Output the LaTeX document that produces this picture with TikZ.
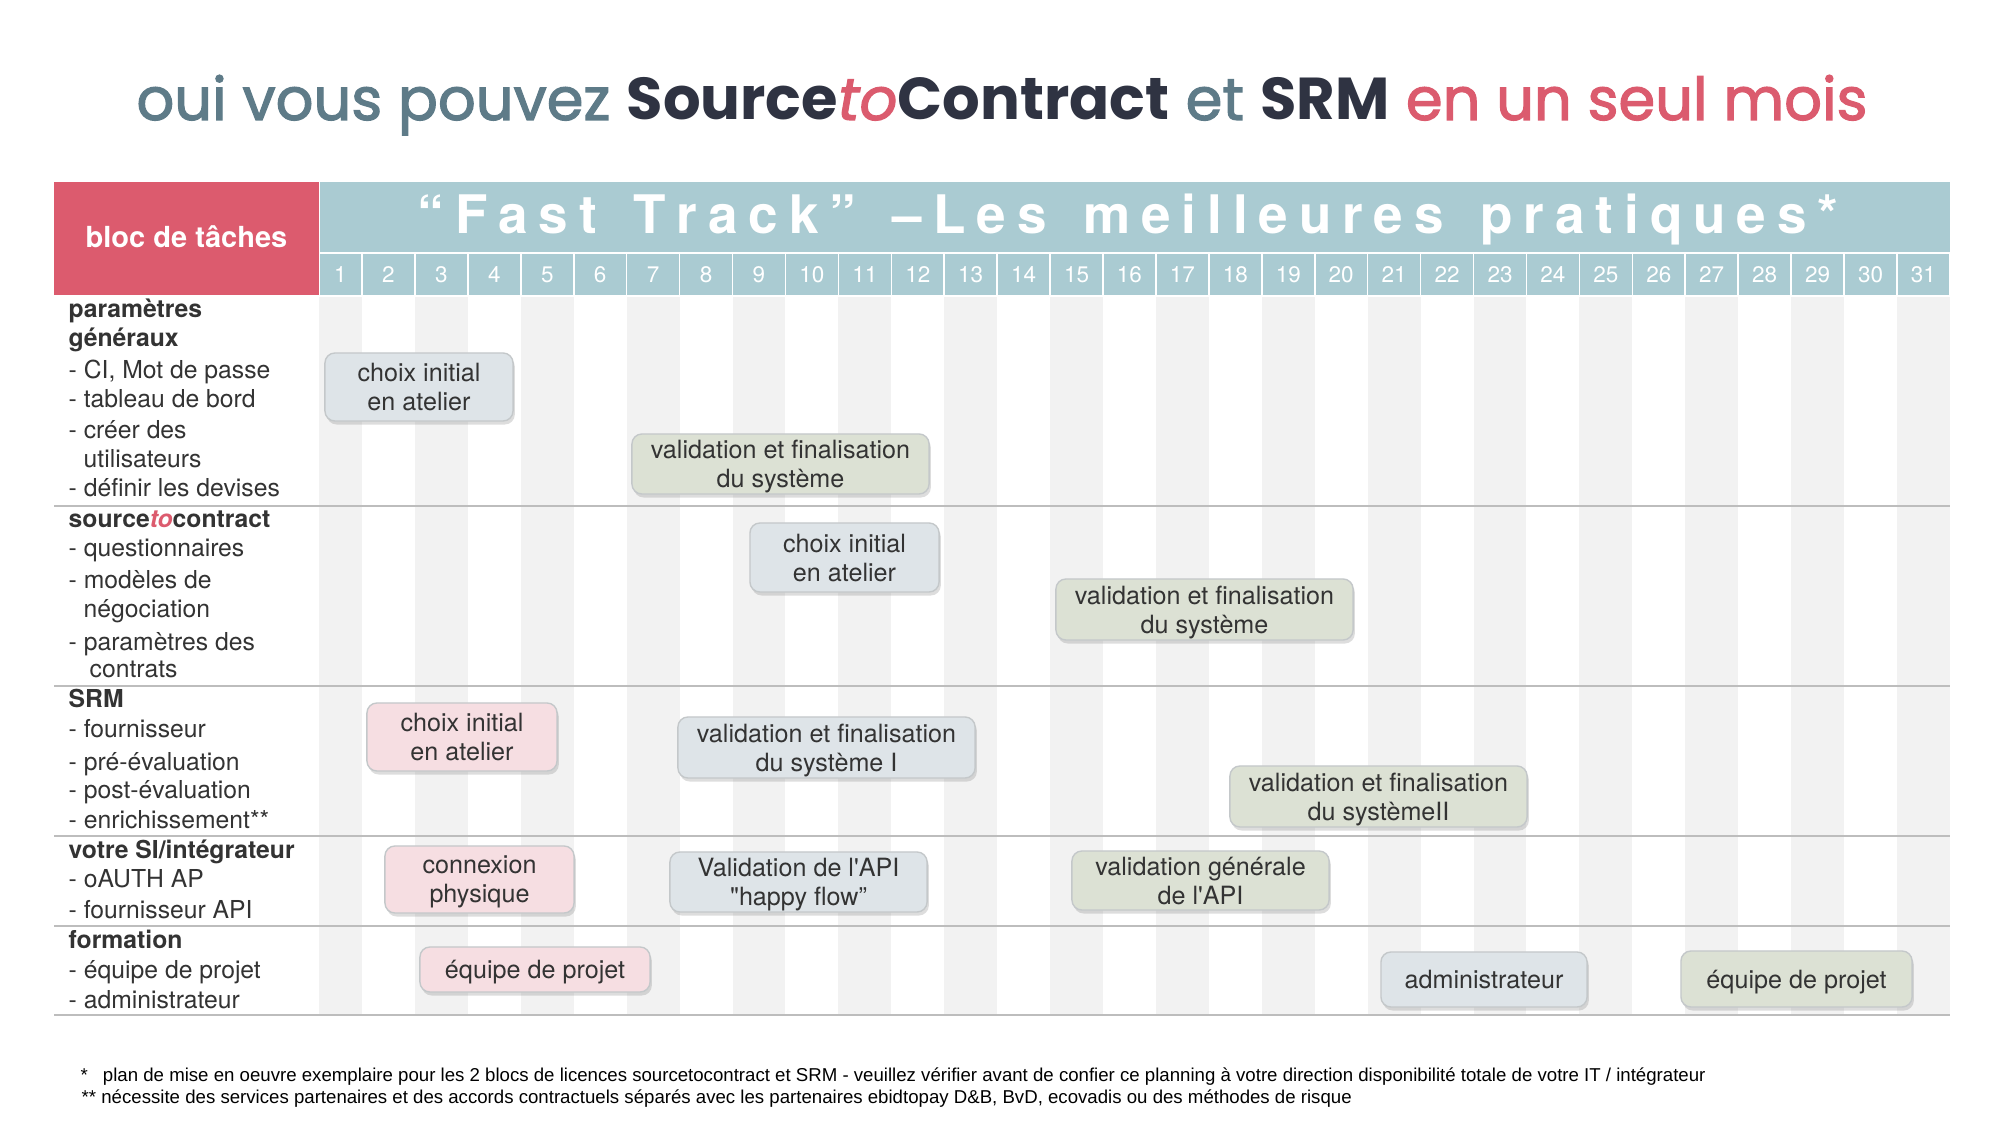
\documentclass[tikz,border=0pt]{standalone}
\usepackage{graphicx}
\usepackage{fontspec}
\setmainfont{TeX Gyre Heros}
\newfontfamily\titlefont{Poppins}
\newfontfamily\titlemed{Poppins}[FakeBold=2]
\newfontfamily\footfont{Liberation Sans}
\usetikzlibrary{shadows}
\definecolor{hdrred}{HTML}{DC5B6E}
\definecolor{hdrblue}{HTML}{AACBD2}
\definecolor{stripe}{HTML}{F2F2F2}
\definecolor{rulecol}{HTML}{BDBDBD}
\definecolor{ttlgrey}{HTML}{5E7B88}
\definecolor{ttldark}{HTML}{2F3342}
\definecolor{ttlred}{HTML}{DB5B6E}
\definecolor{txt}{HTML}{333333}
\definecolor{boxblue}{HTML}{DEE4E8}
\definecolor{boxgreen}{HTML}{DCE1D4}
\definecolor{boxpink}{HTML}{F6DEE2}
\definecolor{boxline}{HTML}{C4C8CA}
\def\lsp{\kern3.1pt}
\tikzset{
  lbl/.style={anchor=base west, inner sep=0pt, text=txt, font=\fontsize{7.03}{8.45}\selectfont},
  task/.style={rounded corners=0.1cm, draw=boxline, line width=0.4pt, align=center,
    inner sep=0pt, text depth=0pt, text=txt, font=\fontsize{7.15}{8.25}\selectfont,
    drop shadow={shadow xshift=0.5pt, shadow yshift=-1pt, opacity=0.22, fill=black!60}},
  tblue/.style={task, fill=boxblue},
  tgreen/.style={task, fill=boxgreen},
  tpink/.style={task, fill=boxpink},
  day/.style={inner sep=0pt, text=white, font=\fontsize{6.4}{7.5}\selectfont},
  rowrule/.style={draw=rulecol, line width=0.7pt},
  foot/.style={anchor=base west, inner sep=0pt, text=black, font=\footfont\fontsize{5.3}{6.4}\selectfont},
}
\begin{document}
\begin{tikzpicture}[x=0.01cm, y=-0.01cm]
\useasboundingbox (0,0) rectangle (2000,1125);
\fill[white] (0,0) rectangle (2000,1125);

% title
\node[anchor=base, inner sep=0pt] (title) at (1002,120) {\resizebox{17.3cm}{!}{\fontsize{20}{24}\selectfont
  \textcolor{ttlgrey}{\titlemed oui vous pouvez}~\textcolor{ttldark}{\titlefont\bfseries Source}\textcolor{ttlred}{\titlemed\itshape to}\textcolor{ttldark}{\titlefont\bfseries Contract}~\textcolor{ttlgrey}{\titlemed et}~\textcolor{ttldark}{\titlefont\bfseries SRM}~\textcolor{ttlred}{\titlemed en un seul mois}}};

% stripes
\foreach \k in {1,3,...,31}{
  \pgfmathsetmacro\xa{\k==1 ? 319 : 362+(\k-2)*52.93}
  \pgfmathsetmacro\xb{362+(\k-1)*52.93}
  \fill[stripe] (\xa,297) rectangle (\xb,1015);
}

% header
\fill[hdrred] (54,182) rectangle (318.5,295);
\node[anchor=base, inner sep=0pt, text=white, font=\bfseries\fontsize{8.25}{9.5}\selectfont] (bloc) at (186.5,248) {bloc de tâches};
\fill[hdrblue] (319.5,182) rectangle (1950,252.3);
\node[anchor=base, inner sep=0pt, text=white, font=\bfseries\fontsize{15.1}{18}\selectfont] (fast) at (1128,234)
 {“\lsp F\lsp a\lsp s\lsp t\lsp\ \lsp T\lsp r\lsp a\lsp c\lsp k\lsp ”\lsp\ \lsp –\lsp L\lsp e\lsp s\lsp\ \lsp m\lsp e\lsp i\lsp l\lsp l\lsp e\lsp u\lsp r\lsp e\lsp s\lsp\ \lsp p\lsp r\lsp a\lsp t\lsp i\lsp q\lsp u\lsp e\lsp s\lsp *};
\foreach \k in {1,...,31}{
  \pgfmathsetmacro\xa{\k==1 ? 319.5 : 362+(\k-2)*52.93+0.8}
  \pgfmathsetmacro\xb{362+(\k-1)*52.93-0.8}
  \fill[hdrblue] (\xa,254) rectangle (\xb,295);
  \node[day] (d\k) at ({(\xa+\xb)/2},275) {\k};
}

% row rules
\draw[rowrule] (54,506) -- (1950,506);
\draw[rowrule] (54,686) -- (1950,686);
\draw[rowrule] (54,836) -- (1950,836);
\draw[rowrule] (54,926) -- (1950,926);
\draw[rowrule] (54,1015) -- (1950,1015);

% labels
\node[lbl] (g1a) at (68,318) {\textbf{paramètres}};
\node[lbl] (g1b) at (68,347) {\textbf{généraux}};
\node[lbl] (g1c) at (68,379) {- CI, Mot de passe};
\node[lbl] (g1d) at (68,408) {- tableau de bord};
\node[lbl] (g1e) at (68,439) {- créer des};
\node[lbl] (g1f) at (83,468) {utilisateurs};
\node[lbl] (g1g) at (68,497) {- définir les devises};

\node[lbl] (g2a) at (68,528) {\textbf{source\textcolor{hdrred}{\textit{to}}contract}};
\node[lbl] (g2b) at (68,557) {- questionnaires};
\node[lbl] (g2c) at (68,589) {- modèles de};
\node[lbl] (g2d) at (83,618) {négociation};
\node[lbl] (g2e) at (68,650) {- paramètres des};
\node[lbl] (g2f) at (89,678) {contrats};

\node[lbl] (g3a) at (68,708) {\textbf{SRM}};
\node[lbl] (g3b) at (68,738) {- fournisseur};
\node[lbl] (g3c) at (68,770) {- pré-évaluation};
\node[lbl] (g3d) at (68,798) {- post-évaluation};
\node[lbl] (g3e) at (68,828) {- enrichissement**};

\node[lbl] (g4a) at (68,858) {\textbf{votre SI/intégrateur}};
\node[lbl] (g4b) at (68,887) {- oAUTH AP};
\node[lbl] (g4c) at (68,918) {- fournisseur API};

\node[lbl] (g5a) at (68,948) {\textbf{formation}};
\node[lbl] (g5b) at (68,978) {- équipe de projet};
\node[lbl] (g5c) at (68,1008) {- administrateur};

% tasks
\node[tblue, minimum width=1.88cm, minimum height=0.68cm] (t1) at (419,387) {choix initial\\en atelier};
\node[tgreen, minimum width=2.97cm, minimum height=0.60cm] (t2) at (780.5,464) {validation et finalisation\\du système};
\node[tblue, minimum width=1.89cm, minimum height=0.69cm] (t3) at (844.5,557.5) {choix initial\\en atelier};
\node[tgreen, minimum width=2.97cm, minimum height=0.61cm] (t4) at (1204.5,609.5) {validation et finalisation\\du système};
\node[tpink, minimum width=1.90cm, minimum height=0.68cm] (t5) at (462,737) {choix initial\\en atelier};
\node[tblue, minimum width=2.97cm, minimum height=0.61cm] (t6) at (826.5,747.5) {validation et finalisation\\du système I};
\node[tgreen, minimum width=2.97cm, minimum height=0.61cm] (t7) at (1378.5,796.5) {validation et finalisation\\du systèmeII};
\node[tpink, minimum width=1.89cm, minimum height=0.67cm] (t8) at (479.5,879.5) {connexion\\physique};
\node[tblue, minimum width=2.57cm, minimum height=0.60cm] (t9) at (798.5,882) {Validation de l\textquotesingle API\\\textquotedbl happy flow”};
\node[tgreen, minimum width=2.57cm, minimum height=0.59cm] (t10) at (1200.5,880.5) {validation générale\\de l\textquotesingle API};
\node[tpink, minimum width=2.30cm, minimum height=0.45cm] (t11) at (535,969.5) {équipe de projet};
\node[tblue, minimum width=2.06cm, minimum height=0.55cm] (t12) at (1484,979.5) {administrateur};
\node[tgreen, minimum width=2.31cm, minimum height=0.56cm] (t13) at (1796.5,979) {équipe de projet};

% footnotes
\node[foot] (f1) at (80,1081) {*\hspace{0.15cm}plan de mise en oeuvre exemplaire pour les 2 blocs de licences sourcetocontract et SRM - veuillez vérifier avant de confier ce planning à votre direction disponibilité totale de votre IT / intégrateur};
\node[foot] (f2) at (81,1103) {** nécessite des services partenaires et des accords contractuels séparés avec les partenaires ebidtopay D\&B, BvD, ecovadis ou des méthodes de risque};
\end{tikzpicture}
\end{document}
